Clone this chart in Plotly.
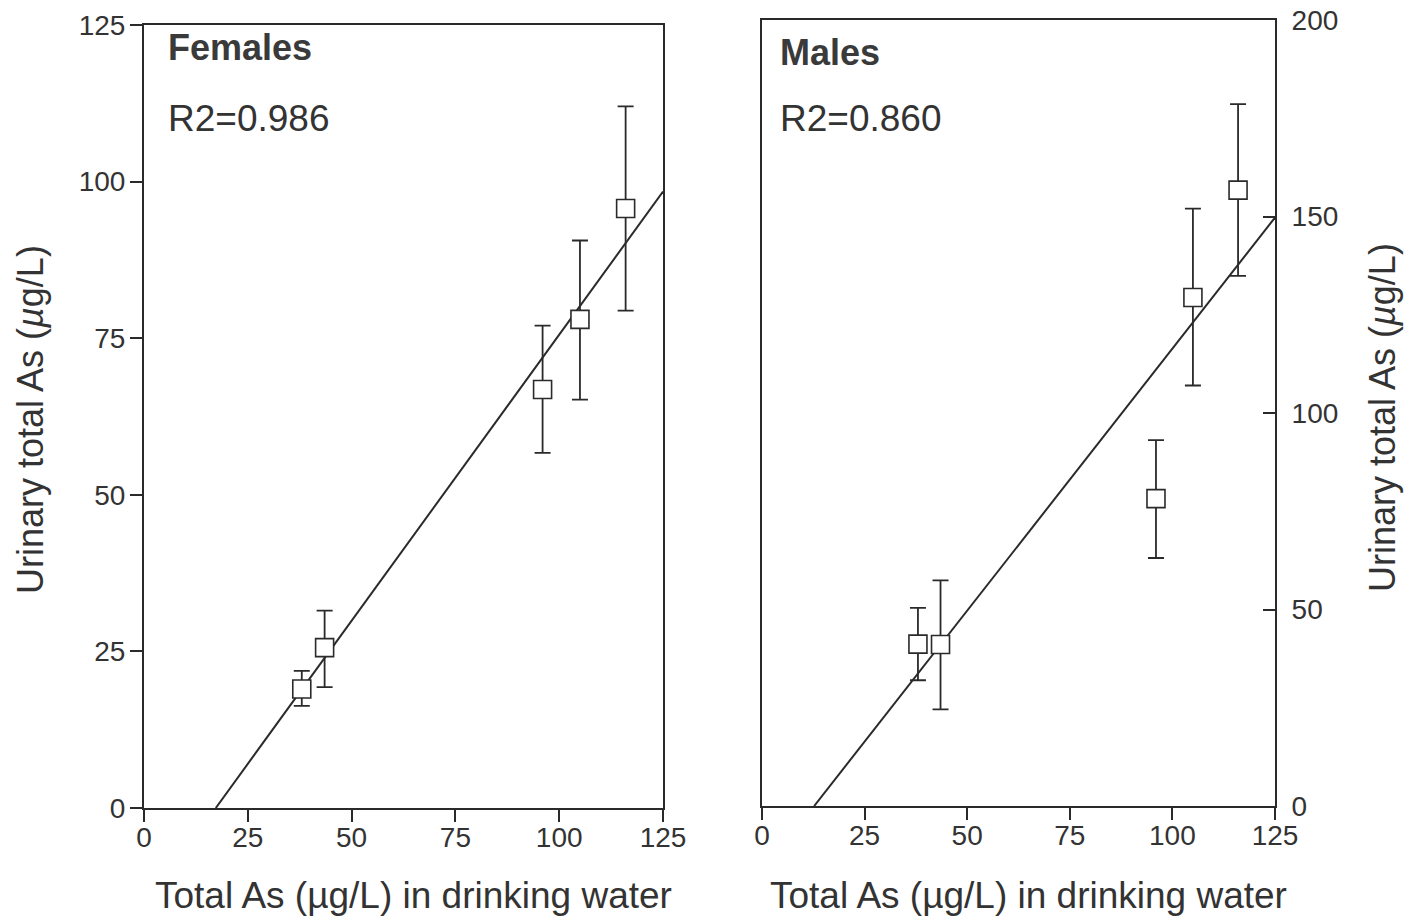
import numpy as np
import plotly.graph_objects as go

# Arsenic in drinking water (group means, µg/L)
water_as = [38.0, 43.5, 96.0, 105.0, 116.0]

# Urinary total arsenic, females: mean and error-bar limits
fem_mean = [19.0, 25.6, 66.8, 78.0, 95.7]
fem_upper = [21.9, 31.5, 77.0, 90.6, 112.0]
fem_lower = [16.3, 19.3, 56.7, 65.2, 79.4]

# Urinary total arsenic, males: mean and error-bar limits
male_mean = [41.2, 41.1, 78.2, 129.4, 156.7]
male_upper = [50.4, 57.4, 93.1, 152.0, 178.6]
male_lower = [32.0, 24.6, 63.1, 107.0, 134.9]

r2_labels = ["R2=0.986", "R2=0.860"]
panel_titles = ["Females", "Males"]
x_ticks = [0, 25, 50, 75, 100, 125]
fem_y_ticks = [0, 25, 50, 75, 100, 125]
male_y_ticks = [0, 50, 100, 150, 200]

W, H = 1416, 919
INK = "#2a2a2a"
TXT = "#333333"
FONT = "Liberation Sans, Arial, Helvetica, sans-serif"


def px_x(p):
    return p / W


def px_y(p):
    return 1 - p / H


def fit_line(x, y, x_max=125.0):
    m, b = np.polyfit(np.asarray(x), np.asarray(y), 1)
    x0 = -b / m
    xs = [x0, x_max]
    return xs, [m * v + b for v in xs]


fig = go.Figure()

for xa, ya, mean, up, lo in [
    ("x", "y", fem_mean, fem_upper, fem_lower),
    ("x2", "y2", male_mean, male_upper, male_lower),
]:
    lx, ly = fit_line(water_as, mean)
    fig.add_trace(go.Scatter(x=lx, y=ly, mode="lines", xaxis=xa, yaxis=ya,
                             line=dict(color=INK, width=2), showlegend=False,
                             hoverinfo="skip"))
    err_plus = [u - m for u, m in zip(up, mean)]
    err_minus = [m - l for m, l in zip(mean, lo)]
    fig.add_trace(go.Scatter(
        x=water_as, y=mean, mode="markers", xaxis=xa, yaxis=ya,
        marker=dict(symbol="square", size=18, color="white",
                    line=dict(color=INK, width=1.6)),
        error_y=dict(type="data", symmetric=False, array=err_plus,
                     arrayminus=err_minus, color=INK, thickness=1.8, width=8),
        showlegend=False))

axis_common = dict(showgrid=False, zeroline=False, showline=True, linecolor=INK,
                   linewidth=2, mirror=True, tickcolor=INK, tickwidth=1.8,
                   ticklen=12, automargin=False,
                   tickfont=dict(family=FONT, size=28, color=TXT))

fig.update_layout(
    width=W, height=H,
    margin=dict(l=0, r=0, t=0, b=0, autoexpand=False),
    paper_bgcolor="white", plot_bgcolor="white",
    xaxis=dict(domain=[px_x(144), px_x(663)], range=[0, 125], tickvals=x_ticks,
               ticks="outside", anchor="y", ticklabelstandoff=-9, **axis_common),
    yaxis=dict(domain=[px_y(808), px_y(25)], range=[0, 125], tickvals=fem_y_ticks,
               ticks="outside", anchor="x", ticklabelstandoff=-1, **axis_common),
    xaxis2=dict(domain=[px_x(762), px_x(1275)], range=[0, 125], tickvals=x_ticks,
                ticks="outside", anchor="y2", ticklabelstandoff=-9, **axis_common),
    yaxis2=dict(domain=[px_y(806), px_y(20)], range=[0, 200], tickvals=male_y_ticks,
                ticks="inside", side="right", anchor="x2", ticklabelstandoff=9,
                **axis_common),
)

ann = []
# panel labels and R² values
for (x0, y_title, y_r2), title, r2 in zip([(166, 47, 118), (778, 52, 118)],
                                         panel_titles, r2_labels):
    ann.append(dict(x=px_x(x0), y=px_y(y_title), text=f"<b>{title}</b>",
                    font=dict(family=FONT, size=36, color="#3a3a3a")))
    ann.append(dict(x=px_x(x0), y=px_y(y_r2), text=r2,
                    font=dict(family=FONT, size=37, color=TXT)))
for a in ann:
    a.update(xref="paper", yref="paper", xanchor="left", yanchor="middle",
             showarrow=False)

# axis titles
xtitle = "Total As (µg/L) in drinking water"
ytitle = "Urinary total As (<i>µ</i>g/L)"
for cx in (413, 1028):
    ann.append(dict(x=px_x(cx), y=px_y(895), text=xtitle, xref="paper", yref="paper",
                    xanchor="center", yanchor="middle", showarrow=False,
                    font=dict(family=FONT, size=37, color=TXT)))
for cx, cy in ((30, 420), (1383, 418)):
    ann.append(dict(x=px_x(cx), y=px_y(cy), text=ytitle, xref="paper", yref="paper",
                    xanchor="center", yanchor="middle", showarrow=False, textangle=-90,
                    font=dict(family=FONT, size=36, color=TXT)))

fig.update_layout(annotations=ann)
fig.write_html("out.html")
